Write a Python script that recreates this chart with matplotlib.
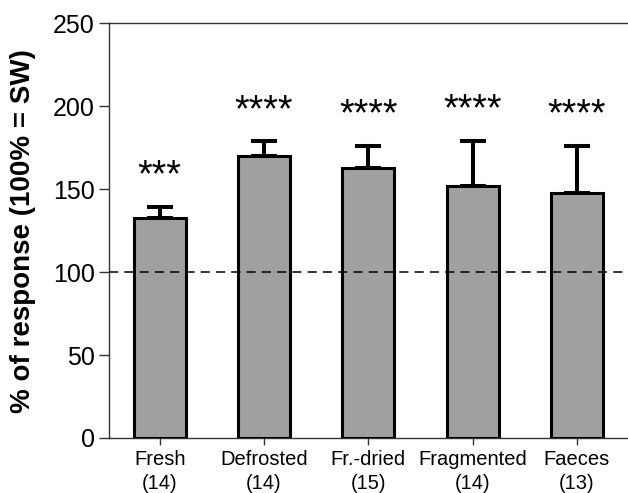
import matplotlib
matplotlib.use("Agg")
import matplotlib.pyplot as plt

categories = ["Fresh\n(14)", "Defrosted\n(14)", "Fr.-dried\n(15)", "Fragmented\n(14)", "Faeces\n(13)"]
means = [132.6, 170.0, 162.9, 151.7, 147.7]
errors = [6.5, 8.8, 13.1, 27.5, 28.3]
stars = ["***", "****", "****", "****", "****"]

plt.rcParams['font.family'] = ['Liberation Sans', 'DejaVu Sans']

fig = plt.figure(figsize=(6.28, 4.93), dpi=100)
ax = fig.add_axes([0.173, 0.1116, 0.827, 0.8411])

x = list(range(len(categories)))
ax.bar(x, means, width=0.5, color="#a0a0a0", edgecolor="black", linewidth=2.2, zorder=3)
ax.errorbar(x, means, yerr=[[0]*len(errors), errors], fmt="none", ecolor="black",
            elinewidth=2.9, capsize=9.4, capthick=2.9, zorder=2)
ax.axhline(100, color="black", linestyle=(0, (6, 4)), linewidth=1.1, zorder=4)

for xi, m, e, s in zip(x, means, errors, stars):
    ax.annotate(s, xy=(xi, m + e), xytext=(0, 9), textcoords="offset points",
                ha="center", va="bottom", fontsize=27)

ax.set_xlim(-0.49, 4.49)
ax.set_ylim(0, 250)
ax.set_yticks([0, 50, 100, 150, 200, 250])
ax.set_xticks(x)
ax.set_xticklabels(categories, fontsize=14.5, linespacing=1.3)
ax.tick_params(axis="y", labelsize=18, length=7, width=1, color="#333333", pad=3)
ax.tick_params(axis="x", length=5, width=1, color="#333333", pad=4)
ax.set_ylabel("% of response (100% = SW)", fontsize=20, fontweight="bold")
ax.yaxis.set_label_coords(-0.14, 0.5)

for side in ["left", "top", "bottom"]:
    ax.spines[side].set_linewidth(1.0)
    ax.spines[side].set_color("#333333")
ax.spines["right"].set_visible(False)

fig.savefig("out.png", dpi=100)
